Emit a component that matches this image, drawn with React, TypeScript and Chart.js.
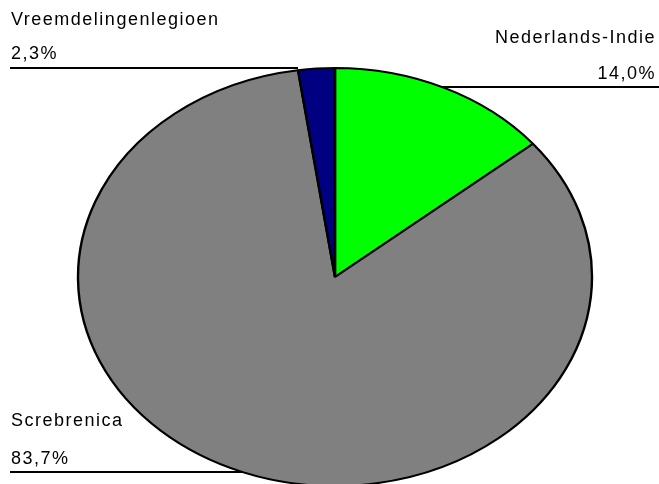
import { useEffect, useRef } from "react";
import { Chart, registerables } from "chart.js";

Chart.register(...registerables);

const categories = ["Nederlands-Indie", "Screbrenica", "Vreemdelingenlegioen"];
const values = [14.0, 83.7, 2.3];
const valueLabels = ["14,0%", "83,7%", "2,3%"];
const colors = ["#00FF00", "#808080", "#000080"];

const RADIUS = 257;
const Y_SCALE = 209 / 257;

const labelLayout = [
  { align: "right", nameY: 43, valueY: 79, lineY: 87 },
  { align: "left", nameY: 426, valueY: 464, lineY: 472 },
  { align: "left", nameY: 25, valueY: 59, lineY: 68 },
];

const ellipsePlugin = {
  id: "ellipsePie",
  beforeDatasetsDraw(chart: any) {
    const arc = chart.getDatasetMeta(0).data[0];
    if (!arc) return;
    const { x, y } = arc.getProps(["x", "y"], true);
    const ctx = chart.ctx;
    ctx.save();
    ctx.translate(x, y);
    ctx.scale(1, Y_SCALE);
    ctx.translate(-x, -y);
  },
  afterDatasetsDraw(chart: any) {
    chart.ctx.restore();
  },
};

const labelPlugin = {
  id: "pieLabels",
  afterDraw(chart: any) {
    const ctx = chart.ctx;
    const meta = chart.getDatasetMeta(0);
    const W = chart.width;
    meta.data.forEach((arc: any, i: number) => {
      const { x: cx, y: cy, outerRadius, startAngle, endAngle } = arc.getProps(
        ["x", "y", "outerRadius", "startAngle", "endAngle"],
        true
      );
      const lay = labelLayout[i];
      const ry = outerRadius * Y_SCALE;
      const dy = (lay.lineY - cy) / ry;
      let ex: number;
      if (Math.abs(dy) < 1) {
        const dx = outerRadius * Math.sqrt(1 - dy * dy);
        ex = lay.align === "right" ? cx + dx : cx - dx;
      } else {
        const a = lay.align === "right" ? endAngle : startAngle;
        ex = cx + outerRadius * Math.cos(a);
      }
      ctx.save();
      ctx.fillStyle = "#000";
      ctx.font = "18px 'Liberation Sans', Arial, sans-serif";
      (ctx as any).letterSpacing = "1.5px";
      ctx.textBaseline = "alphabetic";
      if (lay.align === "right") {
        ctx.textAlign = "right";
        ctx.fillText(categories[i], W - 3, lay.nameY);
        ctx.fillText(valueLabels[i], W - 3, lay.valueY);
      } else {
        ctx.textAlign = "left";
        ctx.fillText(categories[i], 11, lay.nameY);
        ctx.fillText(valueLabels[i], 11, lay.valueY);
      }
      ctx.strokeStyle = "#000";
      ctx.lineWidth = 2;
      ctx.beginPath();
      if (lay.align === "right") {
        ctx.moveTo(ex, lay.lineY);
        ctx.lineTo(W, lay.lineY);
      } else {
        ctx.moveTo(10, lay.lineY);
        ctx.lineTo(ex, lay.lineY);
      }
      ctx.stroke();
      ctx.restore();
    });
  },
};

export default function App() {
  const ref = useRef<HTMLCanvasElement | null>(null);
  useEffect(() => {
    if (!ref.current) return;
    const chart = new Chart(ref.current, {
      type: "pie",
      data: {
        labels: categories,
        datasets: [
          {
            data: values,
            backgroundColor: colors,
            borderColor: "#000",
            borderWidth: 2.4,
            radius: RADIUS,
            clip: false,
          } as any,
        ],
      },
      options: {
        animation: false,
        responsive: false,
        layout: { padding: { left: 11, right: 0, top: 70, bottom: 0 } },
        plugins: {
          legend: { display: false },
          tooltip: { enabled: false },
          title: { display: false },
        },
        events: [],
      },
      plugins: [ellipsePlugin, labelPlugin],
    });
    return () => chart.destroy();
  }, []);
  return (
    <div style={{ position: "absolute", left: 0, top: 0, width: 659, height: 484, background: "#fff" }}>
      <canvas ref={ref} width={659} height={484} style={{ display: "block" }} />
    </div>
  );
}
